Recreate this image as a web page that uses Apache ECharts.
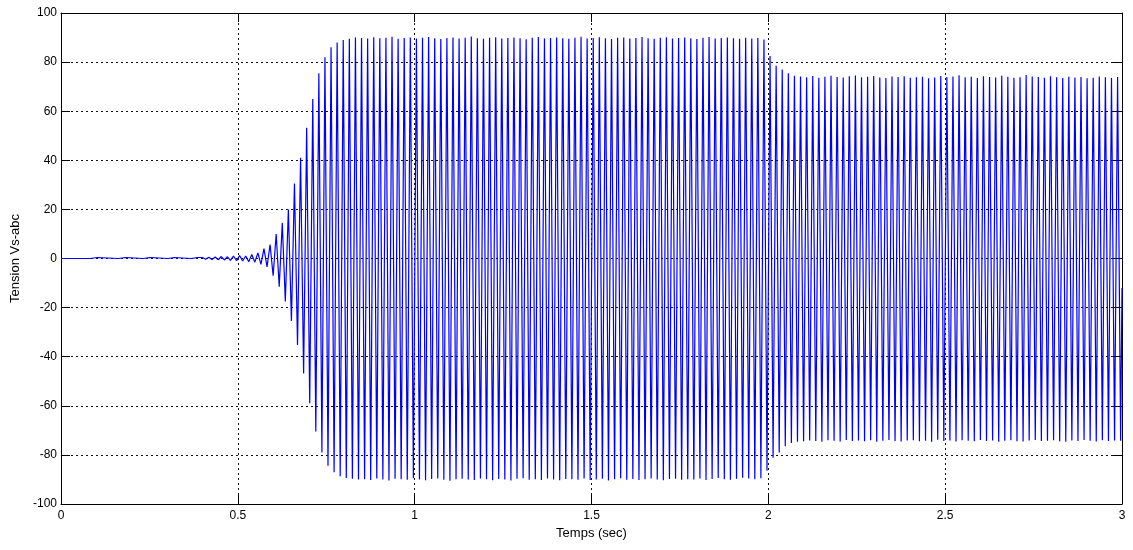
<!DOCTYPE html>
<html>
<head>
<meta charset="utf-8">
<title>Tension Vs-abc</title>
<script src="https://cdn.jsdelivr.net/npm/echarts/dist/echarts.min.js"></script>
<style>
  html, body { margin: 0; padding: 0; background: #fff; }
  #main { width: 1133px; height: 550px; }
</style>
</head>
<body>
<div id="main"></div>
<script>
// axis ticks
var xTicks = { min: 0, max: 3, step: 0.5 };
var yTicks = { min: -100, max: 100, step: 20 };

// quiet start (before the voltage build-up)
var quietTimes = [0, 0.004, 0.012, 0.082, 0.087, 0.103, 0.108, 0.162, 0.167, 0.183, 0.188, 0.232, 0.237, 0.253, 0.258, 0.303, 0.308, 0.320, 0.325, 0.368, 0.373, 0.386, 0.391, 0.400, 0.409, 0.418, 0.427];
var quietValues = [0, -0.3, 0, 0, 0.4, 0.4, 0, 0, 0.4, 0.4, 0, 0, 0.4, 0.4, 0, 0, 0.4, 0.4, 0, 0, 0.4, 0.4, 0, 0.4, -0.3, 0.5, -0.4];

// oscillation: first crest time and period measured on the picture (s)
var firstCrest = 0.436;
var period = 0.01724;

// crest (+) and trough (-) of each cycle
var crestBuildUp = [0.6, 0.8, 0.7, 1.0, 1.2, 1.0, 1.6, 2.3,
  4.0, 5.7, 10, 14.5, 20, 30.5, 41, 53.3, 65, 75.5, 82, 86, 88, 89, 89.5, 90];
var troughBuildUp = [-0.5, -0.6, -0.8, -0.9, -1.0, -1.3, -1.5, -2.4,
  -3.4, -7.0, -11.5, -17.5, -25.5, -35.2, -46.8, -59, -70.5, -79, -84.4, -87.1, -88.7, -89.4, -89.7, -90];

var crestFull = [
  89.8, 89.6, 90.1, 89.7, 89.9, 90.3, 89.5, 89.8, 90.0, 89.6, 89.9,
  90.2, 89.7, 89.4, 89.8, 90.0, 89.6, 89.9, 90.4, 89.7, 89.5, 89.9,
  90.1, 89.6, 89.8, 90.0, 89.7, 89.3, 89.9, 90.2, 89.6, 89.8, 90.0,
  89.7, 89.5, 89.9, 90.3, 89.6, 89.8, 90.1, 89.7, 89.4, 89.9, 90.0,
  89.6, 89.8, 90.2, 89.7, 89.5, 89.9, 90.1, 89.6, 89.8, 90.0, 89.7,
  89.4, 89.9, 90.2, 89.6, 89.8, 90.0, 89.7, 89.5, 89.9, 89.6, 89.8
];
var troughFull = [
  -89.9, -90.2, -89.6, -90.0, -90.4, -89.7, -89.9, -90.1, -89.5, -90.0, -90.3,
  -89.8, -89.6, -90.1, -90.5, -89.9, -89.7, -90.0, -90.2, -89.6, -89.9, -90.3,
  -89.8, -90.0, -90.4, -89.7, -89.5, -90.1, -89.9, -90.2, -89.6, -90.0, -90.3,
  -89.8, -89.9, -90.1, -89.6, -90.2, -90.0, -89.7, -90.4, -89.9, -89.5, -90.1,
  -89.8, -90.2, -89.9, -89.6, -90.0, -90.3, -89.8, -89.7, -90.1, -89.9, -90.0,
  -89.6, -90.2, -89.8, -89.4, -89.9, -90.1, -89.7, -89.3, -89.6, -89.9, -89.5
];

// load step at t = 2 s
var crestStep = [89.2, 82.5, 78.5, 77, 75.5, 74.4];
var troughStep = [-86.5, -81.2, -79, -76.5, -75.2, -74.6];

var crestLoaded = [
  74.1, 73.8, 74.3, 73.6, 74.0, 74.4, 73.9, 73.7, 74.2, 74.5,
  73.8, 74.0, 74.3, 73.7, 73.5, 74.1, 73.9, 74.2, 73.6, 73.8,
  74.0, 73.4, 73.7, 74.3, 73.9, 74.1, 74.6, 73.8, 74.0, 73.5,
  74.2, 73.9, 73.7, 74.4, 74.0, 73.6, 73.8, 74.7, 74.1, 73.9,
  73.6, 74.2, 73.8, 73.5, 74.0, 73.7, 73.9, 73.4, 73.6, 74.1,
  73.8, 73.5, 73.9
];
var troughLoaded = [
  -74.4, -74.1, -74.3, -74.6, -74.0, -74.2, -74.5, -73.9, -74.3, -74.1,
  -74.4, -74.0, -74.6, -74.2, -73.9, -74.3, -74.5, -74.1, -74.0, -74.4,
  -74.2, -74.6, -73.8, -74.3, -74.1, -74.5, -74.0, -74.2, -74.4, -73.9,
  -74.3, -74.1, -74.6, -74.2, -74.0, -74.4, -74.5, -74.1, -73.9, -74.3,
  -74.2, -74.0, -74.4, -74.6, -74.1, -74.3, -73.9, -74.2, -74.5, -74.0,
  -74.3, -74.1, -74.2
];

// last sample at the right edge
var endPoint = [3.0, -12];

var crests = crestBuildUp.concat(crestFull, crestStep, crestLoaded);
var troughs = troughBuildUp.concat(troughFull, troughStep, troughLoaded);

var signal = [];
for (var q = 0; q < quietTimes.length; q++) {
  signal.push([quietTimes[q], quietValues[q]]);
}
for (var i = 0; i < crests.length; i++) {
  signal.push([firstCrest + i * period, crests[i]]);
  signal.push([firstCrest + (i + 0.5) * period, troughs[i]]);
}
signal.push(endPoint);

var fontFamily = '"Liberation Sans", Arial, Helvetica, sans-serif';
var gridDots = { show: true, lineStyle: { color: '#111', type: [2, 3], width: 1 } };
var boxLine = { show: true, onZero: false, lineStyle: { color: '#000', width: 1 } };
var innerTick = { show: true, inside: true, length: 9, lineStyle: { color: '#000', width: 1 } };

var myChart = echarts.init(document.getElementById('main'));
var option = {
  animation: false,
  backgroundColor: '#fff',
  grid: {
    left: 61,
    right: 11,
    top: 13,
    bottom: 46
  },
  xAxis: [
    {
      type: 'value',
      min: xTicks.min,
      max: xTicks.max,
      interval: xTicks.step,
      position: 'bottom',
      name: 'Temps (sec)',
      nameLocation: 'middle',
      nameGap: 23,
      nameTextStyle: { color: '#000', fontSize: 13, fontFamily: fontFamily },
      axisLine: boxLine,
      axisTick: innerTick,
      axisLabel: { color: '#000', fontSize: 12, fontFamily: fontFamily, margin: 6 },
      splitLine: gridDots
    },
    {
      type: 'value',
      min: xTicks.min,
      max: xTicks.max,
      interval: xTicks.step,
      position: 'top',
      axisLine: boxLine,
      axisTick: innerTick,
      axisLabel: { show: false },
      splitLine: { show: false }
    }
  ],
  yAxis: [
    {
      type: 'value',
      min: yTicks.min,
      max: yTicks.max,
      interval: yTicks.step,
      position: 'left',
      name: 'Tension Vs-abc',
      nameLocation: 'middle',
      nameGap: 33,
      nameTextStyle: { color: '#000', fontSize: 13, fontFamily: fontFamily },
      axisLine: boxLine,
      axisTick: innerTick,
      axisLabel: { color: '#000', fontSize: 12, fontFamily: fontFamily, margin: 4 },
      splitLine: gridDots
    },
    {
      type: 'value',
      min: yTicks.min,
      max: yTicks.max,
      interval: yTicks.step,
      position: 'right',
      axisLine: boxLine,
      axisTick: innerTick,
      axisLabel: { show: false },
      splitLine: { show: false }
    }
  ],
  series: [
    {
      name: 'Vs-abc',
      type: 'line',
      xAxisIndex: 0,
      yAxisIndex: 0,
      data: signal,
      showSymbol: false,
      symbol: 'none',
      sampling: null,
      smooth: false,
      lineStyle: { color: '#0000ff', width: 1.2 },
      z: 3
    }
  ]
};
myChart.setOption(option);
</script>
</body>
</html>
